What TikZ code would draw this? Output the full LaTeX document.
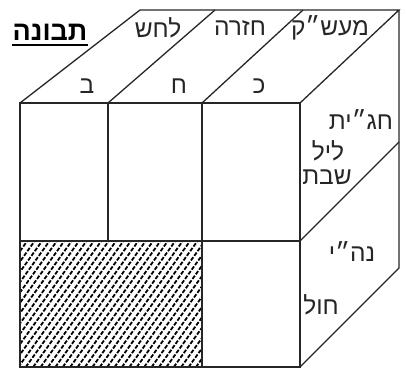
\documentclass[tikz,border=0pt]{standalone}
\usepackage{fontspec}
\newfontfamily\heb[Script=Hebrew]{Liberation Sans}
\TeXXeTstate=1
\newcommand{\hb}[1]{\beginR #1\endR}
\begin{document}
\begin{tikzpicture}[x=1pt,y=-1pt,
  edge/.style={line width=1.3pt, draw=black!85},
  lbl/.style={font=\heb\fontsize{24.5}{28}\selectfont, inner sep=0pt, text=black!85},
  ttl/.style={font=\heb\bfseries\fontsize{27}{28}\selectfont, inner sep=0pt},
  hatchline/.style={line width=1.8pt, dash pattern=on 4pt off 1.7pt}]
\useasboundingbox (0,0) rectangle (406,372);
% coordinates
\coordinate (F1) at (20,103);
\coordinate (F2) at (108,103);
\coordinate (F3) at (202,103);
\coordinate (F4) at (300,103);
\coordinate (B1) at (140,10);
\coordinate (B2) at (215,10);
\coordinate (B3) at (303,10);
\coordinate (B4) at (399,10);
\coordinate (M1) at (20,241);
\coordinate (M2) at (108,241);
\coordinate (M3) at (202,241);
\coordinate (M4) at (300,241);
\coordinate (L1) at (20,367);
\coordinate (L3) at (202,367);
\coordinate (L4) at (300,367);
\coordinate (RM) at (399,142);
\coordinate (RB) at (399,268);
% hatch
\begin{scope}
  \clip (M1) rectangle (L3);
  \foreach \i in {-100,-92.6,...,215} {
    \draw[hatchline] (\i,367) -- ++(91,-127);
  }
\end{scope}
% front face
\draw[edge] (F1) -- (F4) -- (L4) -- (L1) -- cycle;
\draw[edge] (F2) -- (M2);
\draw[edge] (F3) -- (L3);
\draw[edge] (M1) -- (M4);
% top face
\draw[edge] (F1) -- (B1) -- (B4) -- (F4);
\draw[edge] (F2) -- (B2);
\draw[edge] (F3) -- (B3);
% right face
\draw[edge] (B4) -- (RB) -- (L4);
\draw[edge] (M4) -- (RM);
% labels
\node[ttl] (title) at (50,32) {\hb{תבונה}};
\draw[line width=2.4pt] (title.south west |- 0,45) -- (title.south east |- 0,45);
\node[lbl] (lahash) at (158,28) {\hb{לחש}};
\node[lbl] (hazara) at (240,28) {\hb{חזרה}};
\node[lbl] (maash) at (330,28) {\hb{מעש״ק}};
\node[lbl] (bet) at (87,86) {\hb{ב}};
\node[lbl] (het) at (179,86) {\hb{ח}};
\node[lbl] (kaf) at (259,86) {\hb{כ}};
\node[lbl] (hagat) at (361,120) {\hb{חג״ית}};
\node[lbl] (leil) at (328,151) {\hb{ליל}};
\node[lbl] (shabat) at (327,177) {\hb{שבת}};
\node[lbl] (nehi) at (352,252) {\hb{נה״י}};
\node[lbl] (hol) at (321,305) {\hb{חול}};
\end{tikzpicture}
\end{document}
